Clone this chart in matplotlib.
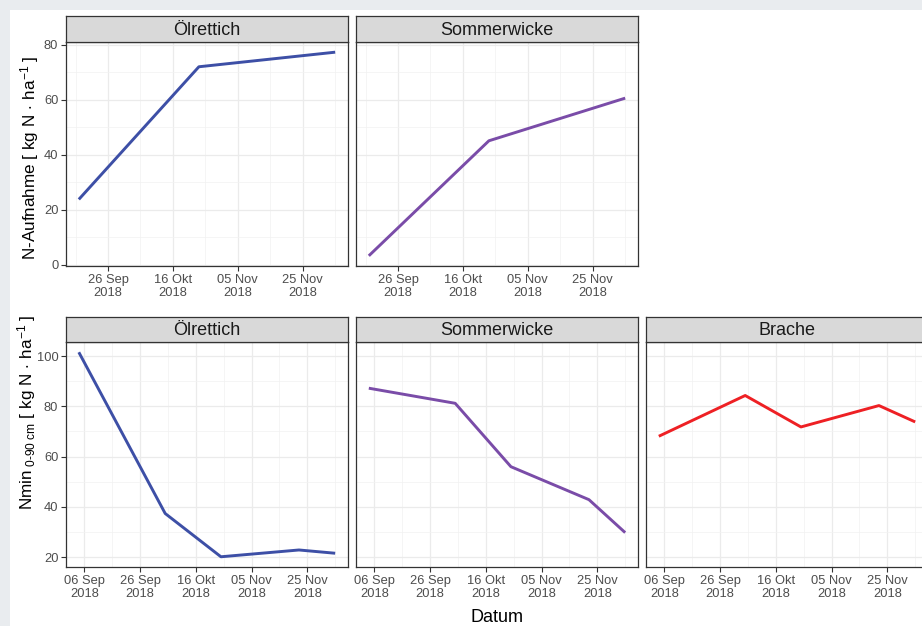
import matplotlib
matplotlib.use("Agg")
import matplotlib.pyplot as plt
import matplotlib.dates as mdates
import pandas as pd
from matplotlib.patches import Rectangle
from matplotlib.ticker import MultipleLocator, FixedLocator

plt.rcParams["font.family"] = ["Liberation Sans", "DejaVu Sans"]
plt.rcParams["mathtext.fontset"] = "custom"
plt.rcParams["mathtext.rm"] = "Liberation Sans"
plt.rcParams["mathtext.it"] = "Liberation Sans:italic"
plt.rcParams["mathtext.default"] = "rm"

# --- data ---
top_dates = pd.to_datetime(["2018-09-17", "2018-10-24", "2018-12-05"])
top_oelrettich = [23.8, 72.0, 77.3]
top_sommerwicke = [3.3, 45.1, 60.6]

bot_dates = pd.to_datetime(["2018-09-04", "2018-10-05", "2018-10-25", "2018-11-22", "2018-12-05"])
bot_oelrettich = [101.5, 37.4, 20.2, 22.9, 21.6]
bot_sommerwicke = [87.2, 81.2, 56.0, 42.9, 29.8]
bot_brache = [68.1, 84.3, 71.8, 80.3, 73.8]

top_ticks = pd.to_datetime(["2018-09-26", "2018-10-16", "2018-11-05", "2018-11-25"])
top_ticklabels = ["26 Sep\n2018", "16 Okt\n2018", "05 Nov\n2018", "25 Nov\n2018"]
bot_ticks = pd.to_datetime(["2018-09-06", "2018-09-26", "2018-10-16", "2018-11-05", "2018-11-25"])
bot_ticklabels = ["06 Sep\n2018", "26 Sep\n2018", "16 Okt\n2018", "05 Nov\n2018", "25 Nov\n2018"]

titles_top = ["Ölrettich", "Sommerwicke"]
titles_bot = ["Ölrettich", "Sommerwicke", "Brache"]

BLUE = "#3D4FA6"
PURPLE = "#7A4CA8"
RED = "#EE2024"

GRID = "#EBEBEB"
BORDER = "#333333"
TICKTXT = "#4D4D4D"

W, H = 922, 626


def box(x0, y0, x1, y1):
    # pixel box (top-left origin) -> figure fraction rect
    return [x0 / W, 1 - y1 / H, (x1 - x0) / W, (y1 - y0) / H]


def minor_from(ticks):
    step = ticks[1] - ticks[0]
    mids = [t - step / 2 for t in ticks] + [ticks[-1] + step / 2]
    return [mdates.date2num(t) for t in mids]


def strip(fig, x0, x1, y0, y1, title):
    sax = fig.add_axes(box(x0, y0, x1, y1))
    sax.set_facecolor("#D9D9D9")
    sax.set_xticks([])
    sax.set_yticks([])
    for s in sax.spines.values():
        s.set_color(BORDER)
        s.set_linewidth(0.9)
    sax.text(0.5, 0.45, title, ha="center", va="center", fontsize=13,
             color="#1A1A1A", transform=sax.transAxes)


def style_panel(ax, ticks, labels, first):
    ax.set_facecolor("white")
    ax.set_xticks(ticks)
    ax.set_xticklabels(labels, linespacing=1.2)
    ax.xaxis.set_minor_locator(FixedLocator(minor_from(ticks)))
    ax.yaxis.set_major_locator(MultipleLocator(20))
    ax.yaxis.set_minor_locator(MultipleLocator(10))
    ax.grid(True, which="major", color=GRID, linewidth=0.9)
    ax.grid(True, which="minor", color="#F2F2F2", linewidth=0.5)
    ax.set_axisbelow(True)
    ax.tick_params(which="minor", length=0)
    ax.tick_params(which="major", length=3.5, width=0.8, color=BORDER,
                   labelsize=9.3, labelcolor=TICKTXT, pad=2)
    if not first:
        ax.tick_params(axis="y", which="major", length=0, labelleft=False)
    for s in ax.spines.values():
        s.set_color(BORDER)
        s.set_linewidth(0.9)
        s.set_zorder(5)


fig = plt.figure(figsize=(W / 100, H / 100), dpi=100, facecolor="#E9ECEF")
fig.add_artist(Rectangle((10 / W, 0), 1, 1 - 10 / H, transform=fig.transFigure,
                         facecolor="white", edgecolor="none", zorder=-10))

cols = [(66, 348), (356, 638), (646, 928)]

# top row: N-Aufnahme
top_series = [top_oelrettich, top_sommerwicke]
top_colors = [BLUE, PURPLE]
top_axes = []
for i, (vals, col, title) in enumerate(zip(top_series, top_colors, titles_top)):
    x0, x1 = cols[i]
    ax = fig.add_axes(box(x0, 42, x1, 266),
                      sharey=top_axes[0] if top_axes else None,
                      sharex=top_axes[0] if top_axes else None)
    ax.plot(top_dates, vals, color=col, linewidth=2.1, solid_capstyle="butt")
    top_axes.append(ax)
    strip(fig, x0, x1, 16, 42, title)
for i, ax in enumerate(top_axes):
    style_panel(ax, top_ticks, top_ticklabels, i == 0)

# bottom row: Nmin
bot_series = [bot_oelrettich, bot_sommerwicke, bot_brache]
bot_colors = [BLUE, PURPLE, RED]
bot_axes = []
for i, (vals, col, title) in enumerate(zip(bot_series, bot_colors, titles_bot)):
    x0, x1 = cols[i]
    ax = fig.add_axes(box(x0, 342, x1, 567),
                      sharey=bot_axes[0] if bot_axes else None,
                      sharex=bot_axes[0] if bot_axes else None)
    ax.plot(bot_dates, vals, color=col, linewidth=2.1, solid_capstyle="butt")
    bot_axes.append(ax)
    strip(fig, x0, x1, 317, 342, title)
for i, ax in enumerate(bot_axes):
    style_panel(ax, bot_ticks, bot_ticklabels, i == 0)

fig.text(30 / W, 1 - 158 / H, r"N-Aufnahme [ kg N$\,\cdot\,$ha$^{-1}$ ]",
         rotation=90, ha="center", va="center", fontsize=12.3, color="black")
fig.text(27 / W, 1 - 412 / H, r"Nmin$_{\ 0‐90\ cm}$ [ kg N$\,\cdot\,$ha$^{-1}$ ]",
         rotation=90, ha="center", va="center", fontsize=12.3, color="black")
fig.text(497 / W, 1 - 618 / H, "Datum", ha="center", va="center",
         fontsize=13, color="black")

fig.savefig("out.png", dpi=100, facecolor=fig.get_facecolor())
